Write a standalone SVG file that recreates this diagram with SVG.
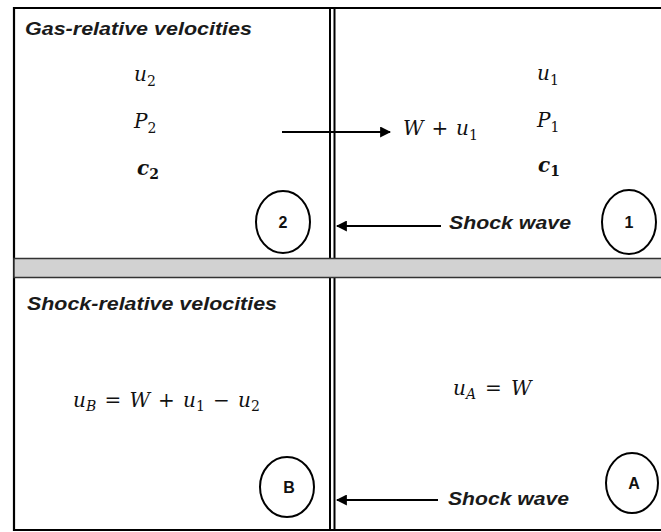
<svg xmlns="http://www.w3.org/2000/svg" width="661" height="532" viewBox="0 0 661 532">
<defs>
<marker id="ah" viewBox="0 0 10 10" refX="9" refY="5" markerWidth="5" markerHeight="5" orient="auto" markerUnits="strokeWidth">
<path d="M0,0 L10,5 L0,10 z" fill="#000"/>
</marker>
<style>
.frame{fill:none;stroke:#000;stroke-width:2.2}
.conn{stroke:#000;stroke-width:2.2;fill:none;marker-end:url(#ah)}
.title{font-family:"Liberation Sans",Arial,sans-serif;font-weight:bold;font-style:italic;font-size:18px;fill:#1a1a1a}
.math{font-family:"DejaVu Serif","Liberation Serif",serif;font-size:20px;fill:#111}
.mi{font-style:italic}
.sub{font-size:14px;font-style:normal}
.sub.mi{font-style:italic}
.lbl{font-family:"Liberation Sans",Arial,sans-serif;font-weight:bold;font-size:16px;fill:#111;text-anchor:middle}
.ring{fill:#fff;stroke:#000;stroke-width:2}
</style>
</defs>
<rect width="661" height="532" fill="#fff"/>
<g id="frame">
<path class="frame" d="M670,8 H14 V530 H670"/>
<line x1="330" y1="8" x2="330" y2="530" stroke="#000" stroke-width="2"/>
<line x1="334.5" y1="8" x2="334.5" y2="530" stroke="#000" stroke-width="2"/>
<rect x="14" y="258.5" width="660" height="19" fill="#d2d2d2" stroke="#333" stroke-width="1.5"/>
</g>
<g id="gas-title"><text class="title" x="25" y="35" textLength="227" lengthAdjust="spacingAndGlyphs">Gas-relative velocities</text></g>
<g id="shock-title"><text class="title" x="27" y="310" textLength="250" lengthAdjust="spacingAndGlyphs">Shock-relative velocities</text></g>
<g id="region2">
<text class="math" x="134" y="81"><tspan class="mi">u</tspan><tspan class="sub" dy="5">2</tspan></text>
<text class="math" x="134" y="128"><tspan class="mi">P</tspan><tspan class="sub" dy="5">2</tspan></text>
<text class="math" x="137" y="175" font-weight="bold"><tspan class="mi">c</tspan><tspan class="sub" dy="4">2</tspan></text>
</g>
<g id="region1">
<text class="math" x="537" y="80"><tspan class="mi">u</tspan><tspan class="sub" dy="5">1</tspan></text>
<text class="math" x="537" y="127"><tspan class="mi">P</tspan><tspan class="sub" dy="5">1</tspan></text>
<text class="math" x="538" y="172" font-weight="bold"><tspan class="mi">c</tspan><tspan class="sub" dy="4">1</tspan></text>
</g>
<g id="gas-velocity-label">
<text class="math" y="135"><tspan class="mi" x="403">W</tspan><tspan x="431.5">+</tspan><tspan class="mi" x="456">u</tspan><tspan class="sub" x="469" dy="5">1</tspan></text>
</g>
<g id="node-2"><ellipse class="ring" cx="283" cy="222" rx="27" ry="31"/><text class="lbl" x="283" y="228">2</text></g>
<g id="node-1"><ellipse class="ring" cx="629" cy="222" rx="27" ry="32"/><text class="lbl" x="629" y="228">1</text></g>
<g id="node-B"><ellipse class="ring" cx="287" cy="487" rx="27" ry="30"/><text class="lbl" x="289" y="493">B</text></g>
<g id="node-A"><ellipse class="ring" cx="632" cy="483" rx="26" ry="30"/><text class="lbl" x="634" y="489">A</text></g>
<g id="eqB">
<text class="math" y="407"><tspan class="mi" x="73">u</tspan><tspan class="sub mi" x="86" dy="4">B</tspan><tspan x="104.5" dy="-4">=</tspan><tspan class="mi" x="129.5">W</tspan><tspan x="158">+</tspan><tspan class="mi" x="183">u</tspan><tspan class="sub" x="196" dy="4">1</tspan><tspan x="213" dy="-4">−</tspan><tspan class="mi" x="238">u</tspan><tspan class="sub" x="251" dy="4">2</tspan></text>
</g>
<g id="eqA">
<text class="math" y="395"><tspan class="mi" x="453">u</tspan><tspan class="sub mi" x="466" dy="4">A</tspan><tspan x="485" dy="-4">=</tspan><tspan class="mi" x="511">W</tspan></text>
</g>
<g id="shock-label-top"><text class="title" x="449" y="229" textLength="122" lengthAdjust="spacingAndGlyphs">Shock wave</text></g>
<g id="shock-label-bottom"><text class="title" x="448" y="505" textLength="121" lengthAdjust="spacingAndGlyphs">Shock wave</text></g>
<g id="connectors">
<line class="conn" x1="282" y1="132" x2="390" y2="132"/>
<line class="conn" x1="441" y1="226" x2="337" y2="226"/>
<line class="conn" x1="438" y1="500" x2="337" y2="500"/>
</g>
</svg>
